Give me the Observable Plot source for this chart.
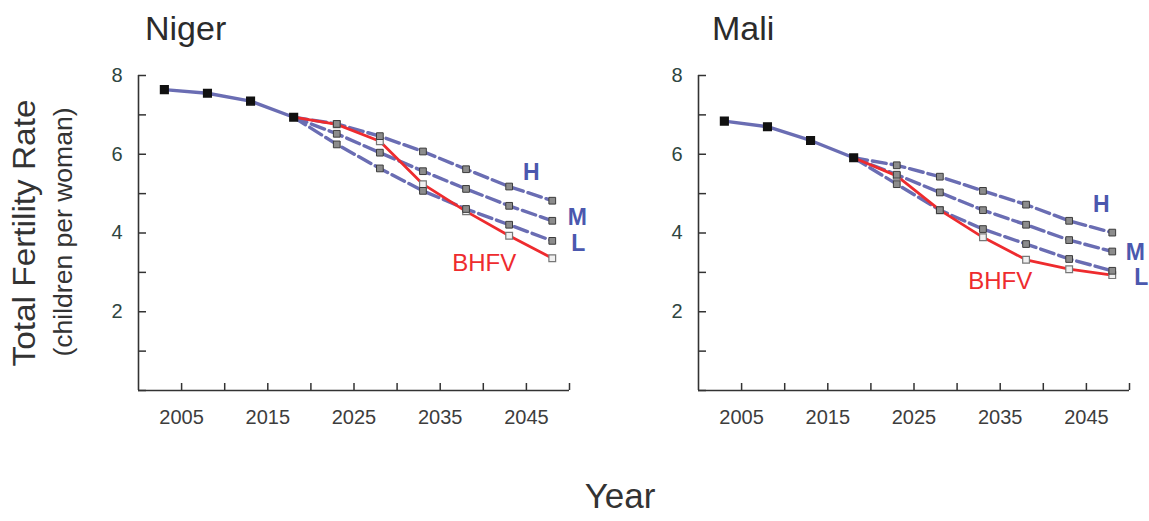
<!DOCTYPE html>
<html><head><meta charset="utf-8">
<script src="https://cdn.jsdelivr.net/npm/d3@7"></script>
<script src="https://cdn.jsdelivr.net/npm/@observablehq/plot@0.6"></script>
<style>
body{margin:0;background:#fff;}
#wrap{position:relative;width:1149px;height:521px;overflow:hidden;font-family:"Liberation Sans",Arial,sans-serif;background:#fff;}
.panel{position:absolute;top:0;width:589px;height:430px;}
#overlay{position:absolute;left:0;top:0;pointer-events:none;}
</style></head><body>
<div id="wrap">
<div id="niger" class="panel" style="left:0px"></div>
<div id="mali" class="panel" style="left:560px"></div>
<svg id="overlay" width="1149" height="521" font-family="Liberation Sans, Arial, sans-serif">
  <text x="145" y="40" font-size="34" fill="#2b2b2b">Niger</text>
  <text x="712" y="40" font-size="34" fill="#2b2b2b">Mali</text>
  <text transform="translate(35,233) rotate(-90)" text-anchor="middle" font-size="32" fill="#333" textLength="267" lengthAdjust="spacingAndGlyphs">Total Fertility Rate</text>
  <text transform="translate(72,232) rotate(-90)" text-anchor="middle" font-size="26" fill="#333" textLength="249" lengthAdjust="spacingAndGlyphs">(children per woman)</text>
  <text x="620" y="508" text-anchor="middle" font-size="35" fill="#333">Year</text>
</svg>
</div>
<script>
// ---- data ----
const histYears = [2003, 2008, 2013, 2018];
const projYears = [2018, 2023, 2028, 2033, 2038, 2043, 2048];

const nigerHist = [7.64, 7.55, 7.35, 6.94];
const nigerH    = [6.94, 6.77, 6.46, 6.07, 5.62, 5.18, 4.82];
const nigerM    = [6.94, 6.52, 6.04, 5.57, 5.12, 4.69, 4.31];
const nigerL    = [6.94, 6.25, 5.64, 5.07, 4.61, 4.21, 3.80];
const nigerBHFV = [6.94, 6.76, 6.33, 5.24, 4.55, 3.93, 3.36];

const maliHist = [6.84, 6.70, 6.35, 5.91];
const maliH    = [5.91, 5.72, 5.43, 5.07, 4.72, 4.31, 4.01];
const maliM    = [5.91, 5.48, 5.03, 4.58, 4.21, 3.82, 3.53];
const maliL    = [5.91, 5.24, 4.58, 4.10, 3.72, 3.34, 3.04];
const maliBHFV = [5.91, 5.45, 4.58, 3.89, 3.32, 3.08, 2.93];

const xTicks = [2005, 2010, 2015, 2020, 2025, 2030, 2035, 2040, 2045, 2050];
const xTickLabels = [2005, 2015, 2025, 2035, 2045];
const yTicks = [0, 1, 2, 3, 4, 5, 6, 7, 8];
const yTickLabels = [2, 4, 6, 8];
const seriesNames = ["H", "M", "L", "BHFV"];

// ---- styles ----
const lineBlue = "#6a6db3";
const labelBlue = "#4b58ae";
const red = "#ee2b2e";

function rows(years, vals) { return years.map((year, i) => ({year, tfr: vals[i]})); }

function panel(hist, H, M, L, B, offs) {
  const h = rows(histYears, hist);
  const proj = [H, M, L].map(v => rows(projYears, v));
  const b = rows(projYears, B);
  const projDots = proj.flatMap(s => s.slice(1));
  const bDots = b.slice(1);
  const ends = [proj[0], proj[1], proj[2], b].map(s => s[s.length - 1]);
  const labelMarks = seriesNames.map((name, i) =>
    Plot.text([ends[i]], {
      x: "year", y: "tfr", text: () => name,
      dx: offs[i][0], dy: offs[i][1],
      fill: i < 3 ? labelBlue : red,
      fontWeight: i < 3 ? "bold" : "normal",
      fontSize: i < 3 ? 23 : 24
    }));
  return Plot.plot({
    width: 589, height: 430,
    marginLeft: 138, marginRight: 20, marginTop: 75, marginBottom: 40,
    x: {domain: [2000, 2050]},
    y: {domain: [0, 8]},
    style: {fontFamily: "Liberation Sans, Arial, sans-serif", background: "transparent", overflow: "visible"},
    marks: [
      Plot.axisY(yTicks, {tickSize: -8, tickPadding: 24, fontSize: 20, fill: "#2e4540", stroke: "#333", strokeWidth: 1.5,
        tickFormat: d => yTickLabels.includes(d) ? String(d) : "", label: null}),
      Plot.axisX(xTicks, {tickSize: -7, tickPadding: 26, fontSize: 20, fill: "#3d3d3d", stroke: "#333", strokeWidth: 1.5,
        tickFormat: d => xTickLabels.includes(d) ? String(d) : "", label: null}),
      Plot.ruleX([2000], {stroke: "#333", strokeWidth: 1.6}),
      Plot.ruleY([0], {stroke: "#333", strokeWidth: 1.6}),
      ...proj.map(s => Plot.line(s, {x: "year", y: "tfr", stroke: lineBlue, strokeWidth: 3.4, strokeDasharray: "14,5"})),
      Plot.line(b, {x: "year", y: "tfr", stroke: red, strokeWidth: 2.8}),
      Plot.line(h, {x: "year", y: "tfr", stroke: lineBlue, strokeWidth: 3.4}),
      Plot.dot(bDots, {x: "year", y: "tfr", symbol: "square", r: 3.8, fill: "#f0f0f0", stroke: "#777", strokeWidth: 1.2}),
      Plot.dot(projDots, {x: "year", y: "tfr", symbol: "square", r: 3.8, fill: "#8c8c8c", stroke: "#3c3c3c", strokeWidth: 1}),
      Plot.dot(h, {x: "year", y: "tfr", symbol: "square", r: 4.3, fill: "#111", stroke: "#111"}),
      ...labelMarks
    ]
  });
}

document.getElementById("niger").appendChild(
  panel(nigerHist, nigerH, nigerM, nigerL, nigerBHFV, [[-21, -28], [25, -3], [26, 3], [-68, 5]]));
document.getElementById("mali").appendChild(
  panel(maliHist, maliH, maliM, maliL, maliBHFV, [[-11, -28], [23, 1], [29, 7], [-112, 6]]));
</script>
</body></html>
